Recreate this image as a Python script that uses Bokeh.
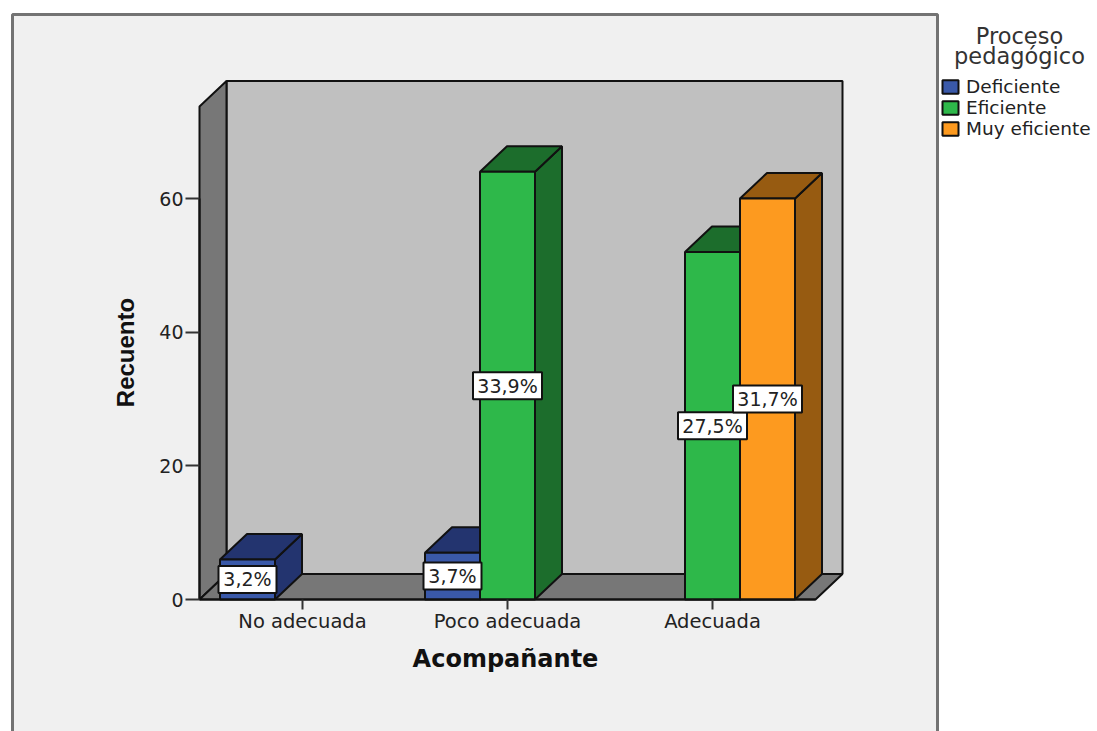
from bokeh.plotting import figure
from bokeh.embed import file_html
from bokeh.resources import INLINE
from bokeh.models import LinearAxis, FixedTicker, Range1d, Legend, LegendItem
from bokeh.core.properties import value

categories = ["No adecuada", "Poco adecuada", "Adecuada"]
series_names = ["Deficiente", "Eficiente", "Muy eficiente"]
deficiente = [6, 7, 0]
eficiente = [0, 64, 52]
muy_eficiente = [0, 0, 60]
pct_deficiente = ["3,2%", "3,7%", ""]
pct_eficiente = ["", "33,9%", "27,5%"]
pct_muy = ["", "", "31,7%"]
y_ticks = [0, 20, 40, 60]

front = ["#3A59A9", "#2EB84A", "#FD9A1F"]
dark = ["#23346F", "#1C6D2C", "#975B11"]

# scale: page pixels per data unit
PX_X = 205.0
PX_Y = 6.683
X0 = 302.0
Y0 = 599.0
W, H = 1097, 731
def px(v): return (v - X0) / PX_X
def py(v): return (Y0 - v) / PX_Y

p = figure(width=W, height=H, output_backend="svg", toolbar_location=None,
           x_range=Range1d(px(0), px(W)), y_range=Range1d(py(H), py(0)),
           x_axis_location=None, y_axis_location=None, min_border=0,
           background_fill_color="white", border_fill_color="white")
p.outline_line_color = None
p.grid.visible = False

# panel
p.quad(left=px(12), right=px(937), bottom=py(760), top=py(14),
       fill_color="#F0F0F0", line_color="#737373", line_width=3)

# 3D walls
dx = 27 / PX_X
dy = 25.5 / PX_Y
wl, wr = px(199), px(815)
wt = py(106)
EDGE = "#111111"
p.patch([wl + dx, wr + dx, wr + dx, wl + dx], [dy, dy, wt + dy, wt + dy],
        fill_color="#C0C0C0", line_color=EDGE, line_width=2)
p.patch([wl, wl + dx, wl + dx, wl], [0, dy, wt + dy, wt],
        fill_color="#777777", line_color=EDGE, line_width=2)
p.patch([wl, wr, wr + dx, wl + dx], [0, 0, dy, dy],
        fill_color="#777777", line_color=EDGE, line_width=2)

# bars
bw = 55 / PX_X
slots = [-1, 0, 1]
all_vals = [deficiente, eficiente, muy_eficiente]
all_pcts = [pct_deficiente, pct_eficiente, pct_muy]
items = []
label_x, label_y, label_t, label_w = [], [], [], []
for s, vals in enumerate(all_vals):
    lefts, rights, tops = [], [], []
    for i, v in enumerate(vals):
        if v == 0:
            continue
        l = i + slots[s] * bw - bw / 2
        r = l + bw
        lefts.append(l); rights.append(r); tops.append(v)
        label_x.append((l + r) / 2); label_y.append(v / 2)
        label_t.append(all_pcts[s][i]); label_w.append(11.0 * len(all_pcts[s][i]) + 14)
    p.patches([[r, r + dx, r + dx, r] for r in rights],
              [[0, dy, t + dy, t] for t in tops],
              fill_color=dark[s], line_color=EDGE, line_width=2)
    p.patches([[l, l + dx, r + dx, r] for l, r in zip(lefts, rights)],
              [[t, t + dy, t + dy, t] for t in tops],
              fill_color=dark[s], line_color=EDGE, line_width=2)
    rend = p.quad(left=lefts, right=rights, bottom=[0] * len(tops), top=tops,
                  fill_color=front[s], line_color=EDGE, line_width=2)
    items.append(LegendItem(label=series_names[s], renderers=[rend]))

# value labels
p.rect(x=label_x, y=label_y, width=label_w, height=[27] * len(label_x),
       width_units="screen", height_units="screen",
       fill_color="white", line_color="#111111", line_width=2)
p.text(x=label_x, y=label_y, text=label_t, text_align="center", text_baseline="middle",
       text_font=value("DejaVu Sans"), text_font_size="19px", text_color="#222222")

# axes
xa = LinearAxis(fixed_location=0, ticker=FixedTicker(ticks=[0, 1, 2]),
                major_label_overrides={i: c for i, c in enumerate(categories)})
xa.bounds = (wl, wr)
xa.major_tick_in = 0
xa.major_tick_out = 10
xa.minor_tick_line_color = None
xa.major_label_standoff = 0
xa.major_label_text_font = "DejaVu Sans"
xa.major_label_text_font_size = "19.5px"
xa.major_label_text_color = "#222222"
xa.axis_line_color = EDGE
xa.axis_line_width = 2
xa.major_tick_line_color = "#333333"
xa.major_tick_line_width = 2
p.add_layout(xa, "below")

ya = LinearAxis(fixed_location=wl, ticker=FixedTicker(ticks=y_ticks))
ya.bounds = (0, 60)
ya.major_tick_in = 0
ya.major_tick_out = 14
ya.minor_tick_line_color = None
ya.major_label_standoff = 2
ya.major_label_text_font = "DejaVu Sans"
ya.major_label_text_font_size = "19px"
ya.major_label_text_color = "#222222"
ya.axis_line_color = EDGE
ya.axis_line_width = 2
ya.major_tick_line_color = "#333333"
ya.major_tick_line_width = 2
p.add_layout(ya, "left")

# axis titles
p.text(x=[px(505)], y=[py(658)], text=["Acompañante"], text_align="center", text_baseline="middle",
       text_font=value("DejaVu Sans"), text_font_style="bold", text_font_size="24px", text_color="#111111")
p.text(x=[px(125)], y=[py(352)], text=["Recuento"], angle=1.5708, text_align="center", text_baseline="middle",
       text_font=value("Liberation Sans"), text_font_style="bold", text_font_size="24px", text_color="#111111")

# legend title
p.text(x=[px(1019), px(1019)], y=[py(35), py(55)], text=["Proceso", "pedagógico"],
       text_align="center", text_baseline="middle",
       text_font=value("DejaVu Sans"), text_font_size="22.5px", text_color="#333333")

leg = Legend(items=items, location=(940, 592), orientation="vertical")
leg.background_fill_alpha = 0
leg.border_line_color = None
leg.padding = 0
leg.margin = 0
leg.spacing = 0
leg.glyph_width = 20
leg.glyph_height = 17
leg.label_height = 17
leg.label_standoff = 6
leg.label_text_font = "DejaVu Sans"
leg.label_text_font_size = "18.5px"
leg.label_text_color = "#222222"
leg.label_text_baseline = "middle"
leg.click_policy = "none"
p.add_layout(leg, "center")

open("out.html", "w").write(file_html(p, INLINE))
